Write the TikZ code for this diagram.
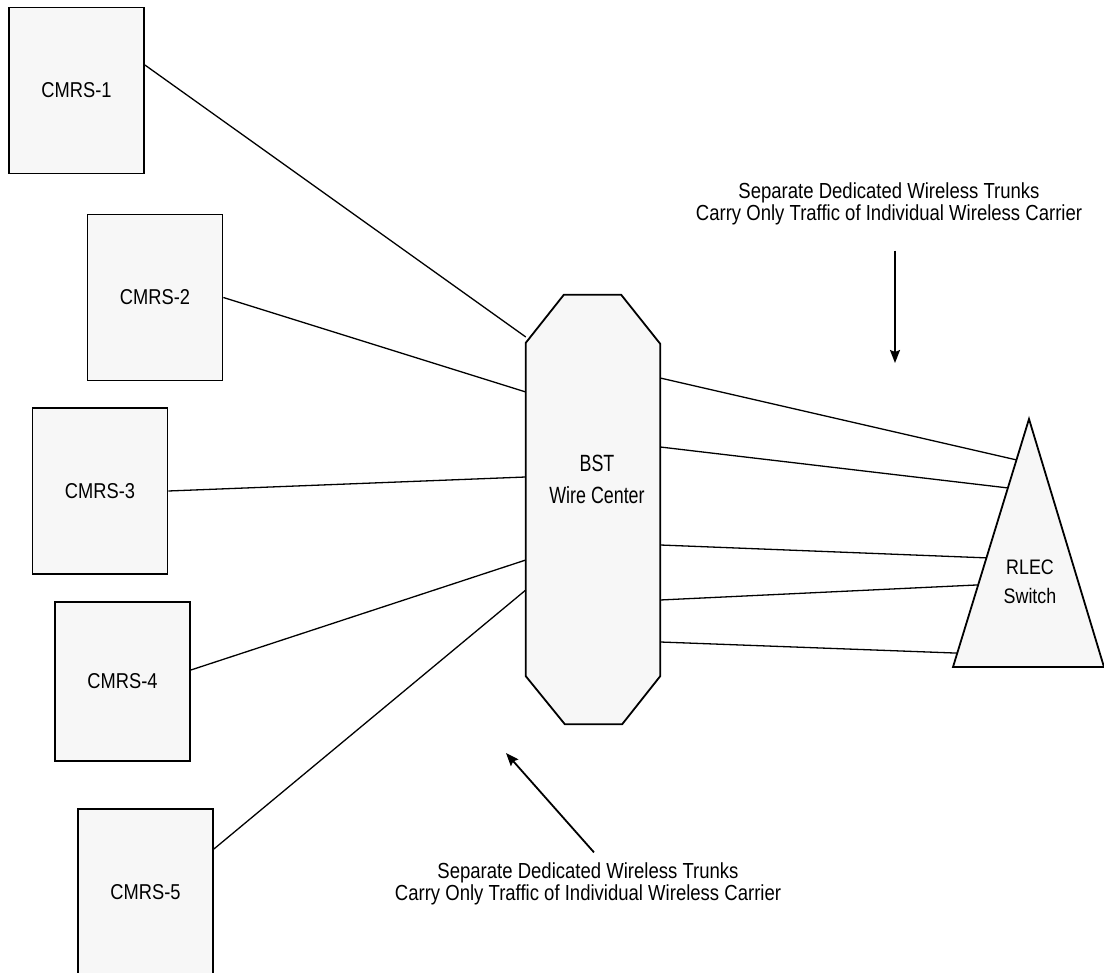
\documentclass[tikz,border=0pt]{standalone}
\usepackage{fontspec}
\setmainfont[FakeStretch=0.85]{Liberation Sans}
\newfontfamily\bstfont[FakeStretch=0.76]{Liberation Sans}
\usetikzlibrary{arrows.meta,calc}
\definecolor{stipple}{HTML}{F7F7F7}

\tikzset{
  cmrsbox/.style={draw,line width=1.8pt,fill=stipple,minimum width=135pt,minimum height=166pt,inner sep=0pt,font=\fontsize{21.5}{25}\selectfont},
  shapeline/.style={line width=1.8pt,fill=stipple,line join=miter},
  trunk/.style={line width=1.3pt},
  note/.style={align=center,inner sep=0pt,font=\fontsize{21.8}{22.5}\selectfont},
  pointer/.style={line width=1.8pt,-{Stealth[length=13pt,width=10pt,inset=2pt]}}
}

\begin{document}
\begin{tikzpicture}[x=1pt,y=-1pt]
  \useasboundingbox (0,0) rectangle (1104,973);

  \node[cmrsbox] (cmrs1) at (76.5,90.5) {CMRS-1};
  \node[cmrsbox] (cmrs2) at (155,297.5) {CMRS-2};
  \node[cmrsbox] (cmrs3) at (100,491) {CMRS-3};
  \node[cmrsbox,minimum height=159pt] (cmrs4) at (122.5,681.5) {CMRS-4};
  \node[cmrsbox] (cmrs5) at (145.5,892) {CMRS-5};

  \node[minimum width=134pt,minimum height=429pt,inner sep=0pt] (bst) at (593,509.5) {};
  \draw[shapeline] ([yshift=-48pt]bst.north west) -- ([xshift=38pt]bst.north west)
    -- ([xshift=-39pt]bst.north east) -- ([yshift=-49pt]bst.north east)
    -- ([yshift=48pt]bst.south east) -- ([xshift=-38pt]bst.south east)
    -- ([xshift=39pt]bst.south west) -- ([yshift=48pt]bst.south west) -- cycle;
  \node[align=center,font=\bstfont\fontsize{23.5}{32}\selectfont] (bstlabel) at ([xshift=4pt,yshift=30pt]bst.center) {BST\\Wire Center};

  \coordinate (apex) at (1029,419);
  \coordinate (baseL) at (953,667);
  \coordinate (baseR) at (1104,667);
  \draw[shapeline] (apex) -- (baseR) -- (baseL) -- cycle;
  \node[align=center,font=\fontsize{21}{29}\selectfont] (rlec) at (1030,582) {RLEC\\Switch};

  \draw[trunk] ([yshift=25.5pt]cmrs1.east) -- ([yshift=172.5pt]bst.west);
  \draw[trunk] (cmrs2.east) -- ([yshift=117.5pt]bst.west);
  \draw[trunk] (cmrs3.east) -- ([yshift=32.5pt]bst.west);
  \draw[trunk] ([yshift=11.5pt]cmrs4.east) -- ([yshift=-50.5pt]bst.west);
  \draw[trunk] ([yshift=43pt]cmrs5.east) -- ([yshift=-80.5pt]bst.west);

  \foreach \s/\f in {131.5/0.165,62.5/0.278,-35.5/0.56,-90.5/0.669,-132.5/0.944}
    \draw[trunk] ([yshift=\s pt]bst.east) -- ($(apex)!\f!(baseL)$);

  \node[note] (topnote) at (889,204) {Separate Dedicated Wireless Trunks\\Carry Only Traffic of Individual Wireless Carrier};
  \node[note] (botnote) at (588,884) {Separate Dedicated Wireless Trunks\\Carry Only Traffic of Individual Wireless Carrier};

  \coordinate (toptip) at (895,363);
  \coordinate (bottip) at (506,753);
  \draw[pointer] ([xshift=6pt,yshift=-25pt]topnote.south) -- (toptip);
  \draw[pointer] ([xshift=6pt,yshift=10pt]botnote.north) -- (bottip);
\end{tikzpicture}
\end{document}
